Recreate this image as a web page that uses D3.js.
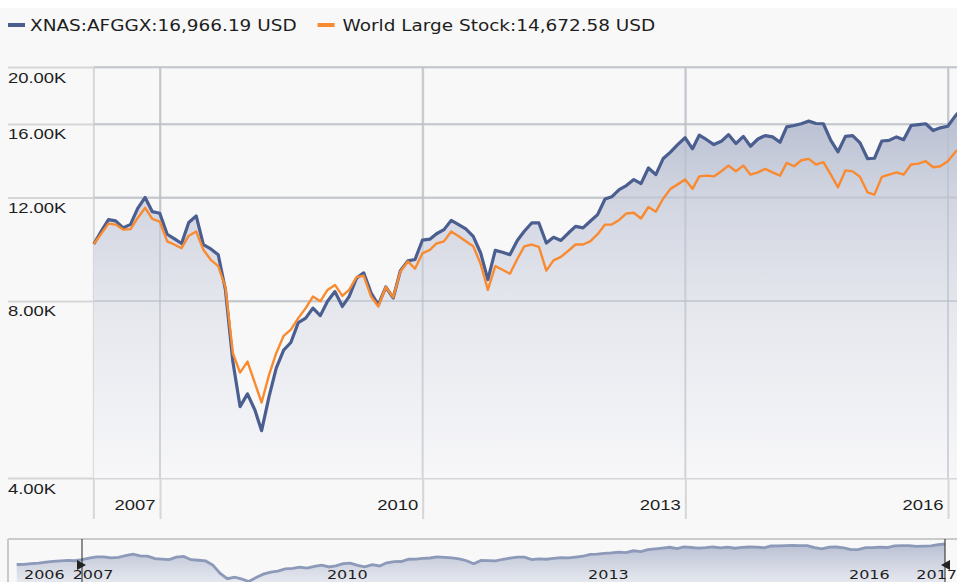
<!DOCTYPE html>
<html>
<head>
<meta charset="utf-8">
<script src="https://cdn.jsdelivr.net/npm/d3@7"></script>
<style>
  body { margin: 0; background: #f8f8f8; }
  svg { display: block; font-family: "DejaVu Sans", Verdana, sans-serif; }
</style>
</head>
<body>
<div id="chart"></div>
<script>
// -----------------------------------------------------------------------------
// Data (month-end growth of 10K, Mar 2007 - Feb 2017)
// -----------------------------------------------------------------------------

var fundName = "XNAS:AFGGX";
var categoryName = "World Large Stock";

var fundValues = [
  10000, 10500, 11000, 10950, 10650, 10800, 11500, 12000, 11350, 11280,
  10390, 10210, 10020, 10880, 11160, 9980, 9810, 9590, 8360, 6310, 5290, 5560,
  5220, 4815, 5500, 6150, 6600, 6800, 7350, 7480, 7780, 7555, 7990, 8300,
  7830, 8140, 8750, 8930, 8250, 7880, 8450, 8095, 9010, 9360, 9410, 10150,
  10190, 10410, 10580, 10970, 10790, 10610, 10305, 9655, 8700, 9755, 9680, 9590,
  10140, 10510, 10860, 10860, 10040, 10265, 10140, 10440, 10715, 10650, 10930, 11220,
  11930, 12030, 12375, 12570, 12870, 12670, 13470, 13120, 13960, 14330, 14760, 15160,
  14520, 15310, 15045, 14760, 14950, 15350, 14820, 15245, 14665, 15085, 15290, 15210,
  14895, 15820, 15905, 16015, 16180, 16030, 16015, 15005, 14350, 15245, 15290, 14860,
  13975, 13990, 14970, 15005, 15210, 15045, 15905, 15965, 16015, 15595, 15760, 15860,
  16500, 16966.19
];

var categoryValues = [
  10000, 10400, 10830, 10790, 10580, 10600, 11075, 11520, 11030, 10920,
  10105, 9980, 9840, 10330, 10500, 9775, 9400, 9170, 8450, 6520, 6045, 6310,
  5800, 5375, 5990, 6520, 6980, 7150, 7480, 7780, 8140, 7990, 8355, 8520,
  8160, 8355, 8785, 8830, 8140, 7830, 8450, 8115, 8980, 9340, 9080, 9640,
  9775, 10020, 10105, 10500, 10305, 10105, 9910, 9250, 8355, 9170, 9040, 8900,
  9430, 9910, 9980, 9890, 9010, 9380, 9510, 9740, 9980, 9980, 10105, 10390,
  10790, 10790, 10990, 11270, 11300, 11050, 11560, 11350, 11940, 12410, 12630, 12870,
  12410, 13030, 13070, 13030, 13295, 13595, 13295, 13595, 13120, 13240, 13420, 13240,
  13070, 13740, 13560, 13880, 13960, 13650, 13780, 13120, 12485, 13340, 13290, 13005,
  12245, 12135, 13005, 13120, 13240, 13120, 13650, 13700, 13830, 13505, 13560, 13830,
  14325, 14672.58
];

// navigator shows the fund from Jun 2006
var navLeadValues = [8500, 8550, 8750, 8900, 9200, 9450, 9600, 9750, 9650];

var yTicks = [4000, 8000, 12000, 16000, 20000];
var xTickYears = [2007, 2010, 2013, 2016];
var navTickYears = [2006, 2007, 2010, 2013, 2016, 2017];

var monthEnd = function(d) { return d3.timeDay.offset(d, -1); };
var dates = d3.timeMonth.range(new Date(2007, 3, 1), new Date(2017, 2, 2)).map(monthEnd);
var navDates = d3.timeMonth.range(new Date(2006, 6, 1), new Date(2017, 2, 2)).map(monthEnd);
var navValues = navLeadValues.concat(fundValues);

// -----------------------------------------------------------------------------
// Layout
// -----------------------------------------------------------------------------

var W = 957, H = 582;
var plotTop = 67, plotBottom = 478, gridBottom = 519;
var navTop = 539;
var STRETCH = 1.23;
var textColor = "#1e1e1e";
var gridColor = "#d6d6d6";
var fundColor = "#4b5e90";
var catColor = "#f98a30";

var svg = d3.select("#chart").append("svg")
    .attr("width", W)
    .attr("height", H);

svg.append("rect").attr("width", W).attr("height", H).attr("fill", "#f8f8f8");
svg.append("rect").attr("width", W).attr("height", 8).attr("fill", "#ffffff");

var defs = svg.append("defs");
var grad = defs.append("linearGradient")
    .attr("id", "areaGrad")
    .attr("gradientUnits", "userSpaceOnUse")
    .attr("x1", 0).attr("x2", 0).attr("y1", plotTop).attr("y2", plotBottom);
grad.append("stop").attr("offset", "0%").attr("stop-color", "#a9b2c8");
grad.append("stop").attr("offset", "30%").attr("stop-color", "#d0d4e0");
grad.append("stop").attr("offset", "60%").attr("stop-color", "#e6e8ee");
grad.append("stop").attr("offset", "100%").attr("stop-color", "#f7f7f9");

var navGrad = defs.append("linearGradient")
    .attr("id", "navGrad")
    .attr("gradientUnits", "userSpaceOnUse")
    .attr("x1", 0).attr("x2", 0).attr("y1", navTop).attr("y2", H);
navGrad.append("stop").attr("offset", "0%").attr("stop-color", "#b3bbcf");
navGrad.append("stop").attr("offset", "100%").attr("stop-color", "#e6e8ef");

// -----------------------------------------------------------------------------
// Scales
// -----------------------------------------------------------------------------

var xScale = d3.scaleTime()
    .domain([new Date(2008, 0, 1), new Date(2017, 0, 1)])
    .range([160, 948]);

var yScale = d3.scaleLog()
    .domain([4000, 20000])
    .range([plotBottom, plotTop]);

var navX = d3.scaleTime()
    .domain([dates[0], dates[dates.length - 1]])
    .range([82, 945]);

var navY = d3.scaleLog()
    .domain([4000, 20000])
    .range([587, navTop]);

var plotLeft = xScale(dates[0]);

function stretch(sel, dx, dy) {
  sel.attr("x", 0).attr("y", 0).attr("dy", null)
    .attr("transform", "translate(" + dx + "," + dy + ") scale(" + STRETCH + ",1)");
}

// -----------------------------------------------------------------------------
// Grid + axes
// -----------------------------------------------------------------------------

var yAxis = svg.append("g")
    .attr("transform", "translate(8,0)")
    .call(d3.axisRight(yScale)
        .tickValues(yTicks)
        .tickSize(W - 8)
        .tickFormat(function(d) { return (d / 1000).toFixed(2) + "K"; }));
yAxis.select(".domain").remove();
yAxis.selectAll(".tick line").attr("stroke", gridColor).attr("stroke-width", 2);
yAxis.selectAll(".tick text")
    .attr("fill", textColor)
    .style("font-size", "15px")
    .call(stretch, 0, 15);

var xAxis = svg.append("g")
    .attr("transform", "translate(0," + plotTop + ")")
    .call(d3.axisBottom(xScale)
        .tickValues(xTickYears.map(function(yr) { return new Date(yr + 1, 0, 1); }))
        .tickSize(gridBottom - plotTop)
        .tickFormat(function(d) { return d.getFullYear() - 1; }));
xAxis.select(".domain").remove();
xAxis.selectAll(".tick line").attr("stroke", gridColor).attr("stroke-width", 2);
xAxis.selectAll(".tick text")
    .attr("fill", textColor)
    .attr("text-anchor", "end")
    .style("font-size", "15px")
    .call(stretch, -5, gridBottom - plotTop - 9);

svg.append("line")
    .attr("x1", plotLeft).attr("x2", plotLeft)
    .attr("y1", plotTop).attr("y2", gridBottom)
    .attr("stroke", gridColor).attr("stroke-width", 2);

// -----------------------------------------------------------------------------
// Series
// -----------------------------------------------------------------------------

var area = d3.area()
    .x(function(d, i) { return xScale(dates[i]); })
    .y0(plotBottom)
    .y1(function(d) { return yScale(d); });

var line = d3.line()
    .x(function(d, i) { return xScale(dates[i]); })
    .y(function(d) { return yScale(d); });

svg.append("path")
    .datum(fundValues)
    .attr("fill", "url(#areaGrad)")
    .attr("d", area);

// redraw grid on top of the fill, faintly
svg.append("g").selectAll("line")
    .data(yTicks.slice(1))
    .join("line")
    .attr("x1", plotLeft).attr("x2", W)
    .attr("y1", function(d) { return yScale(d); })
    .attr("y2", function(d) { return yScale(d); })
    .attr("stroke", "#b8bcc6").attr("stroke-opacity", 0.6).attr("stroke-width", 2);
svg.append("g").selectAll("line")
    .data(xTickYears)
    .join("line")
    .attr("x1", function(d) { return xScale(new Date(d + 1, 0, 1)); })
    .attr("x2", function(d) { return xScale(new Date(d + 1, 0, 1)); })
    .attr("y1", plotTop).attr("y2", plotBottom)
    .attr("stroke", "#b8bcc6").attr("stroke-opacity", 0.6).attr("stroke-width", 2);

svg.append("path")
    .datum(fundValues)
    .attr("fill", "none")
    .attr("stroke", fundColor)
    .attr("stroke-width", 3.2)
    .attr("stroke-linejoin", "round")
    .attr("d", line);

svg.append("path")
    .datum(categoryValues)
    .attr("fill", "none")
    .attr("stroke", catColor)
    .attr("stroke-width", 2.4)
    .attr("stroke-linejoin", "round")
    .attr("d", line);

// -----------------------------------------------------------------------------
// Legend
// -----------------------------------------------------------------------------

var fmt = d3.format(",.2f");
var legend = svg.append("g");

legend.append("rect")
    .attr("x", 8).attr("y", 23).attr("width", 17).attr("height", 4)
    .attr("fill", fundColor);
var leg1 = legend.append("text")
    .attr("fill", textColor)
    .style("font-size", "15px")
    .text(fundName + ":" + fmt(fundValues[fundValues.length - 1]) + " USD")
    .call(stretch, 30, 31);

var leg2x = 30 + leg1.node().getComputedTextLength() * STRETCH + 21;
legend.append("rect")
    .attr("x", leg2x).attr("y", 23).attr("width", 17).attr("height", 4)
    .attr("fill", catColor);
legend.append("text")
    .attr("fill", textColor)
    .style("font-size", "15px")
    .text(categoryName + ":" + fmt(categoryValues[categoryValues.length - 1]) + " USD")
    .call(stretch, leg2x + 25, 31);

// -----------------------------------------------------------------------------
// Navigator
// -----------------------------------------------------------------------------

var nav = svg.append("g");

var navArea = d3.area()
    .x(function(d, i) { return navX(navDates[i]); })
    .y0(H)
    .y1(function(d) { return navY(d); });

var navLine = d3.line()
    .x(function(d, i) { return navX(navDates[i]); })
    .y(function(d) { return navY(d); });

nav.append("path")
    .datum(navValues)
    .attr("fill", "url(#navGrad)")
    .attr("d", navArea);

nav.append("path")
    .datum(navValues)
    .attr("fill", "none")
    .attr("stroke", "#8d99b8")
    .attr("stroke-width", 2.8)
    .attr("d", navLine);

nav.append("line")
    .attr("x1", 8).attr("x2", W).attr("y1", navTop).attr("y2", navTop)
    .attr("stroke", "#cacaca").attr("stroke-width", 2);
nav.append("line")
    .attr("x1", 8).attr("x2", 8).attr("y1", navTop).attr("y2", H)
    .attr("stroke", "#cacaca").attr("stroke-width", 2);

var prevEnd = 16;
navTickYears.forEach(function(yr) {
  var t = nav.append("text")
      .attr("fill", textColor)
      .style("font-size", "13px")
      .text(yr);
  var w = t.node().getComputedTextLength() * STRETCH;
  var tx = Math.max(navX(new Date(yr, 0, 1)) + 5, prevEnd + 8);
  tx = Math.min(tx, W - w);
  t.call(stretch, tx, 579);
  prevEnd = tx + w;
});

[navX(dates[0]), navX(dates[dates.length - 1])].forEach(function(hx, i) {
  nav.append("line")
      .attr("x1", hx).attr("x2", hx).attr("y1", navTop).attr("y2", H)
      .attr("stroke", "#222").attr("stroke-width", 1);
  var dir = i === 0 ? 1 : -1;
  nav.append("path")
      .attr("d", "M" + (hx - 5 * dir) + ",560 L" + (hx + 4 * dir) + ",565 L" + (hx - 5 * dir) + ",570 Z")
      .attr("fill", "#222");
});
</script>
</body>
</html>
